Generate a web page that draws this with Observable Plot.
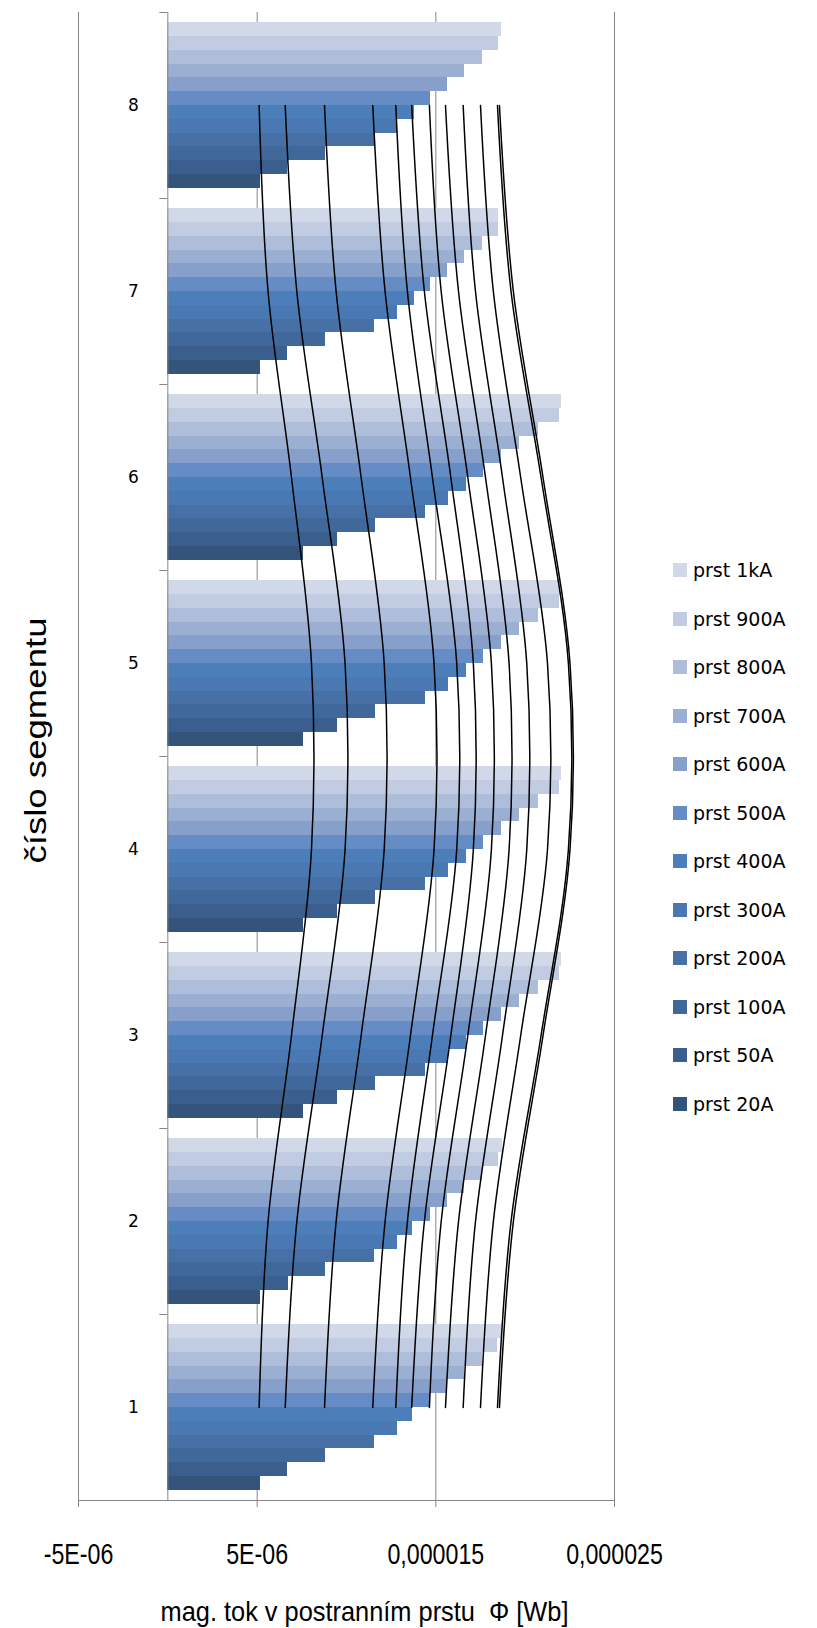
<!DOCTYPE html>
<html>
<head>
<meta charset="utf-8">
<script src="https://cdn.jsdelivr.net/npm/d3@7"></script>
<script src="https://cdn.jsdelivr.net/npm/@observablehq/plot@0.6"></script>
<style>
  body { margin: 0; background: #fff; }
  #wrap { position: relative; width: 817px; height: 1628px; background: #fff; }
  #legend { position: absolute; left: 673px; top: 546px; font-family: "DejaVu Sans", sans-serif; font-size: 19px; color: #000; }
  .item { display: flex; align-items: center; height: 48.5px; white-space: nowrap; }
  .sw { width: 14px; height: 14px; margin-right: 6px; flex: none; }
</style>
</head>
<body>
<div id="wrap"><div id="chart"></div><div id="legend"></div></div>
<script>
// ---- data ----
const segments = [1, 2, 3, 4, 5, 6, 7, 8];
const series = ["prst 20A", "prst 50A", "prst 100A", "prst 200A", "prst 300A", "prst 400A",
                "prst 500A", "prst 600A", "prst 700A", "prst 800A", "prst 900A", "prst 1kA"];
const colors = ["#34547b", "#3a5e8d", "#41689a", "#4670a6", "#4a78b2", "#4c7eb9",
                "#658cc4", "#86a0cb", "#9aafd1", "#aebdd9", "#c1cce2", "#d1d9e8"];

// bar values, ×1e-6 Wb, in series order (20A ... 1kA), one array per segment
const barSeg1 = [5.20, 6.72, 8.84, 11.58, 12.87, 13.71, 14.72, 15.67, 16.62, 17.63, 18.45, 18.69];
const barSeg2 = [5.18, 6.76, 8.84, 11.58, 12.87, 13.71, 14.72, 15.67, 16.62, 17.63, 18.50, 18.73];
const barSeg3 = [7.59, 9.51, 11.64, 14.44, 15.70, 16.73, 17.68, 18.67, 19.70, 20.76, 21.94, 22.05];
const barSeg4 = [7.59, 9.51, 11.64, 14.44, 15.72, 16.73, 17.68, 18.67, 19.70, 20.76, 21.94, 22.05];
const barSeg5 = [7.59, 9.51, 11.64, 14.44, 15.72, 16.73, 17.68, 18.67, 19.70, 20.76, 21.94, 21.97];
const barSeg6 = [7.59, 9.51, 11.64, 14.44, 15.72, 16.73, 17.68, 18.67, 19.70, 20.76, 21.94, 22.05];
const barSeg7 = [5.20, 6.72, 8.84, 11.58, 12.87, 13.82, 14.72, 15.67, 16.62, 17.63, 18.50, 18.50];
const barSeg8 = [5.20, 6.72, 8.84, 11.58, 12.87, 13.82, 14.72, 15.67, 16.62, 17.63, 18.52, 18.69];

// smooth curve values, ×1e-6 Wb, in series order, one array per segment
const lineSeg1 = [5.11, 6.57, 8.77, 11.47, 12.76, 13.65, 14.64, 15.54, 16.53, 17.50, 18.45, 18.56];
const lineSeg2 = [5.61, 7.22, 9.42, 12.16, 13.41, 14.36, 15.30, 16.27, 17.22, 18.22, 19.21, 19.34];
const lineSeg3 = [6.92, 8.64, 10.82, 13.58, 14.81, 15.84, 16.79, 17.78, 18.73, 19.75, 20.89, 21.00];
const lineSeg4 = [8.04, 9.92, 12.11, 14.90, 16.17, 17.10, 18.11, 19.10, 20.09, 21.25, 22.42, 22.51];
const lineSeg5 = [8.04, 9.92, 12.11, 14.90, 16.17, 17.10, 18.11, 19.10, 20.09, 21.25, 22.42, 22.51];
const lineSeg6 = [6.92, 8.64, 10.82, 13.58, 14.81, 15.84, 16.79, 17.78, 18.73, 19.75, 20.89, 21.00];
const lineSeg7 = [5.61, 7.22, 9.42, 12.16, 13.41, 14.36, 15.30, 16.27, 17.22, 18.22, 19.21, 19.34];
const lineSeg8 = [5.11, 6.57, 8.77, 11.47, 12.76, 13.65, 14.64, 15.54, 16.53, 17.50, 18.45, 18.56];

const xTicks = [-5e-6, 5e-6, 1.5e-5, 2.5e-5];
const xTickLabels = ["-5E-06", "5E-06", "0,000015", "0,000025"];
const xTitle = "mag. tok v postranním prstu  Φ [Wb]";
const yTitle = "číslo segmentu";

// ---- build tables ----
const unit = 1e-6;
const barSegs = [barSeg1, barSeg2, barSeg3, barSeg4, barSeg5, barSeg6, barSeg7, barSeg8];
const lineSegs = [lineSeg1, lineSeg2, lineSeg3, lineSeg4, lineSeg5, lineSeg6, lineSeg7, lineSeg8];
const pad = 0.055, slot = (1 - 2 * pad) / series.length;
const bars = [], curves = [];
segments.forEach((s, k) => {
  barSegs[k].forEach((v, i) => bars.push({
    segment: s, series: series[i], value: v * unit,
    y1: s - 0.5 + pad + i * slot, y2: s - 0.5 + pad + (i + 1) * slot
  }));
  lineSegs[k].forEach((v, i) => curves.push({segment: s, series: series[i], value: v * unit}));
});

const W = 817, H = 1628, mL = 78, mR = 203, mT = 12, mB = 128;
const xDomain = [d3.min(xTicks), d3.max(xTicks)];
const yDomain = [d3.min(segments) - 0.5, d3.max(segments) + 0.5];
const boundaries = d3.range(yDomain[0], yDomain[1] + 1e-9, 1);
const x0off = (0 - xDomain[0]) / (xDomain[1] - xDomain[0]) * (W - mL - mR);
const labelMap = new Map(xTicks.map((t, i) => [t, xTickLabels[i]]));
const gray = "#868686";
const sans = "'Liberation Sans', Arial, sans-serif";

const chart = Plot.plot({
  width: W, height: H,
  marginLeft: mL, marginRight: mR, marginTop: mT, marginBottom: mB,
  style: {background: "#fff", color: "#000", overflow: "visible"},
  x: {domain: xDomain, label: null},
  y: {domain: yDomain, label: null},
  color: {domain: series, range: colors},
  marks: [
    Plot.ruleX(xTicks, {stroke: gray, strokeWidth: 1}),
    Plot.rectX(bars, {x1: 0, x2: "value", y1: "y1", y2: "y2", fill: "series", shapeRendering: "crispEdges"}),
    Plot.ruleX([0], {stroke: gray, strokeWidth: 1}),
    Plot.ruleY([yDomain[0]], {stroke: gray, strokeWidth: 1}),
    Plot.line(curves, {x: "value", y: "segment", z: "series", curve: "cardinal",
                        stroke: "#000", strokeWidth: 1.5}),
    Plot.axisY({ticks: boundaries, tickSize: 8, tickFormat: () => "", dx: x0off, stroke: gray}),
    Plot.axisY({ticks: segments, tickSize: 0, tickPadding: 29, dx: x0off,
                fontSize: 17, fontFamily: "'DejaVu Sans', sans-serif", fill: "#000"}),
    Plot.axisX({ticks: xTicks, tickSize: 7, tickPadding: 36, stroke: gray,
                tickFormat: d => labelMap.get(d), fontSize: 29, fontFamily: sans, fill: "#000"}),
    Plot.text([xTitle], {text: d => d, frameAnchor: "bottom", textAnchor: "middle", lineAnchor: "middle",
                         dx: 18, dy: 112, fontSize: 27, fontFamily: sans, fill: "#000"}),
    Plot.text([yTitle], {text: d => d, frameAnchor: "left", textAnchor: "middle", lineAnchor: "middle",
                         rotate: -90, dx: -42, dy: -16, fontSize: 30, fontFamily: sans, fill: "#000"})
  ]
});
document.getElementById("chart").appendChild(chart);

// horizontal squeeze/stretch of texts to match the reference's proportions
function stretch(t, sx) {
  const tr = t.getAttribute("transform") || "";
  t.setAttribute("transform", (tr + ` scale(${sx},1)`).trim());
}
const tickSet = new Set(xTickLabels);
chart.querySelectorAll("text").forEach(t => {
  const s = t.textContent;
  if (s === yTitle) stretch(t, 1.22);
  else if (s === xTitle) stretch(t, 0.94);
  else if (tickSet.has(s)) stretch(t, 0.8);
});

// ---- legend (top: 1kA, bottom: 20A) ----
const legend = d3.select("#legend");
series.slice().reverse().forEach(name => {
  const item = legend.append("div").attr("class", "item");
  item.append("div").attr("class", "sw").style("background", colors[series.indexOf(name)]);
  item.append("span").text(name);
});
</script>
</body>
</html>
